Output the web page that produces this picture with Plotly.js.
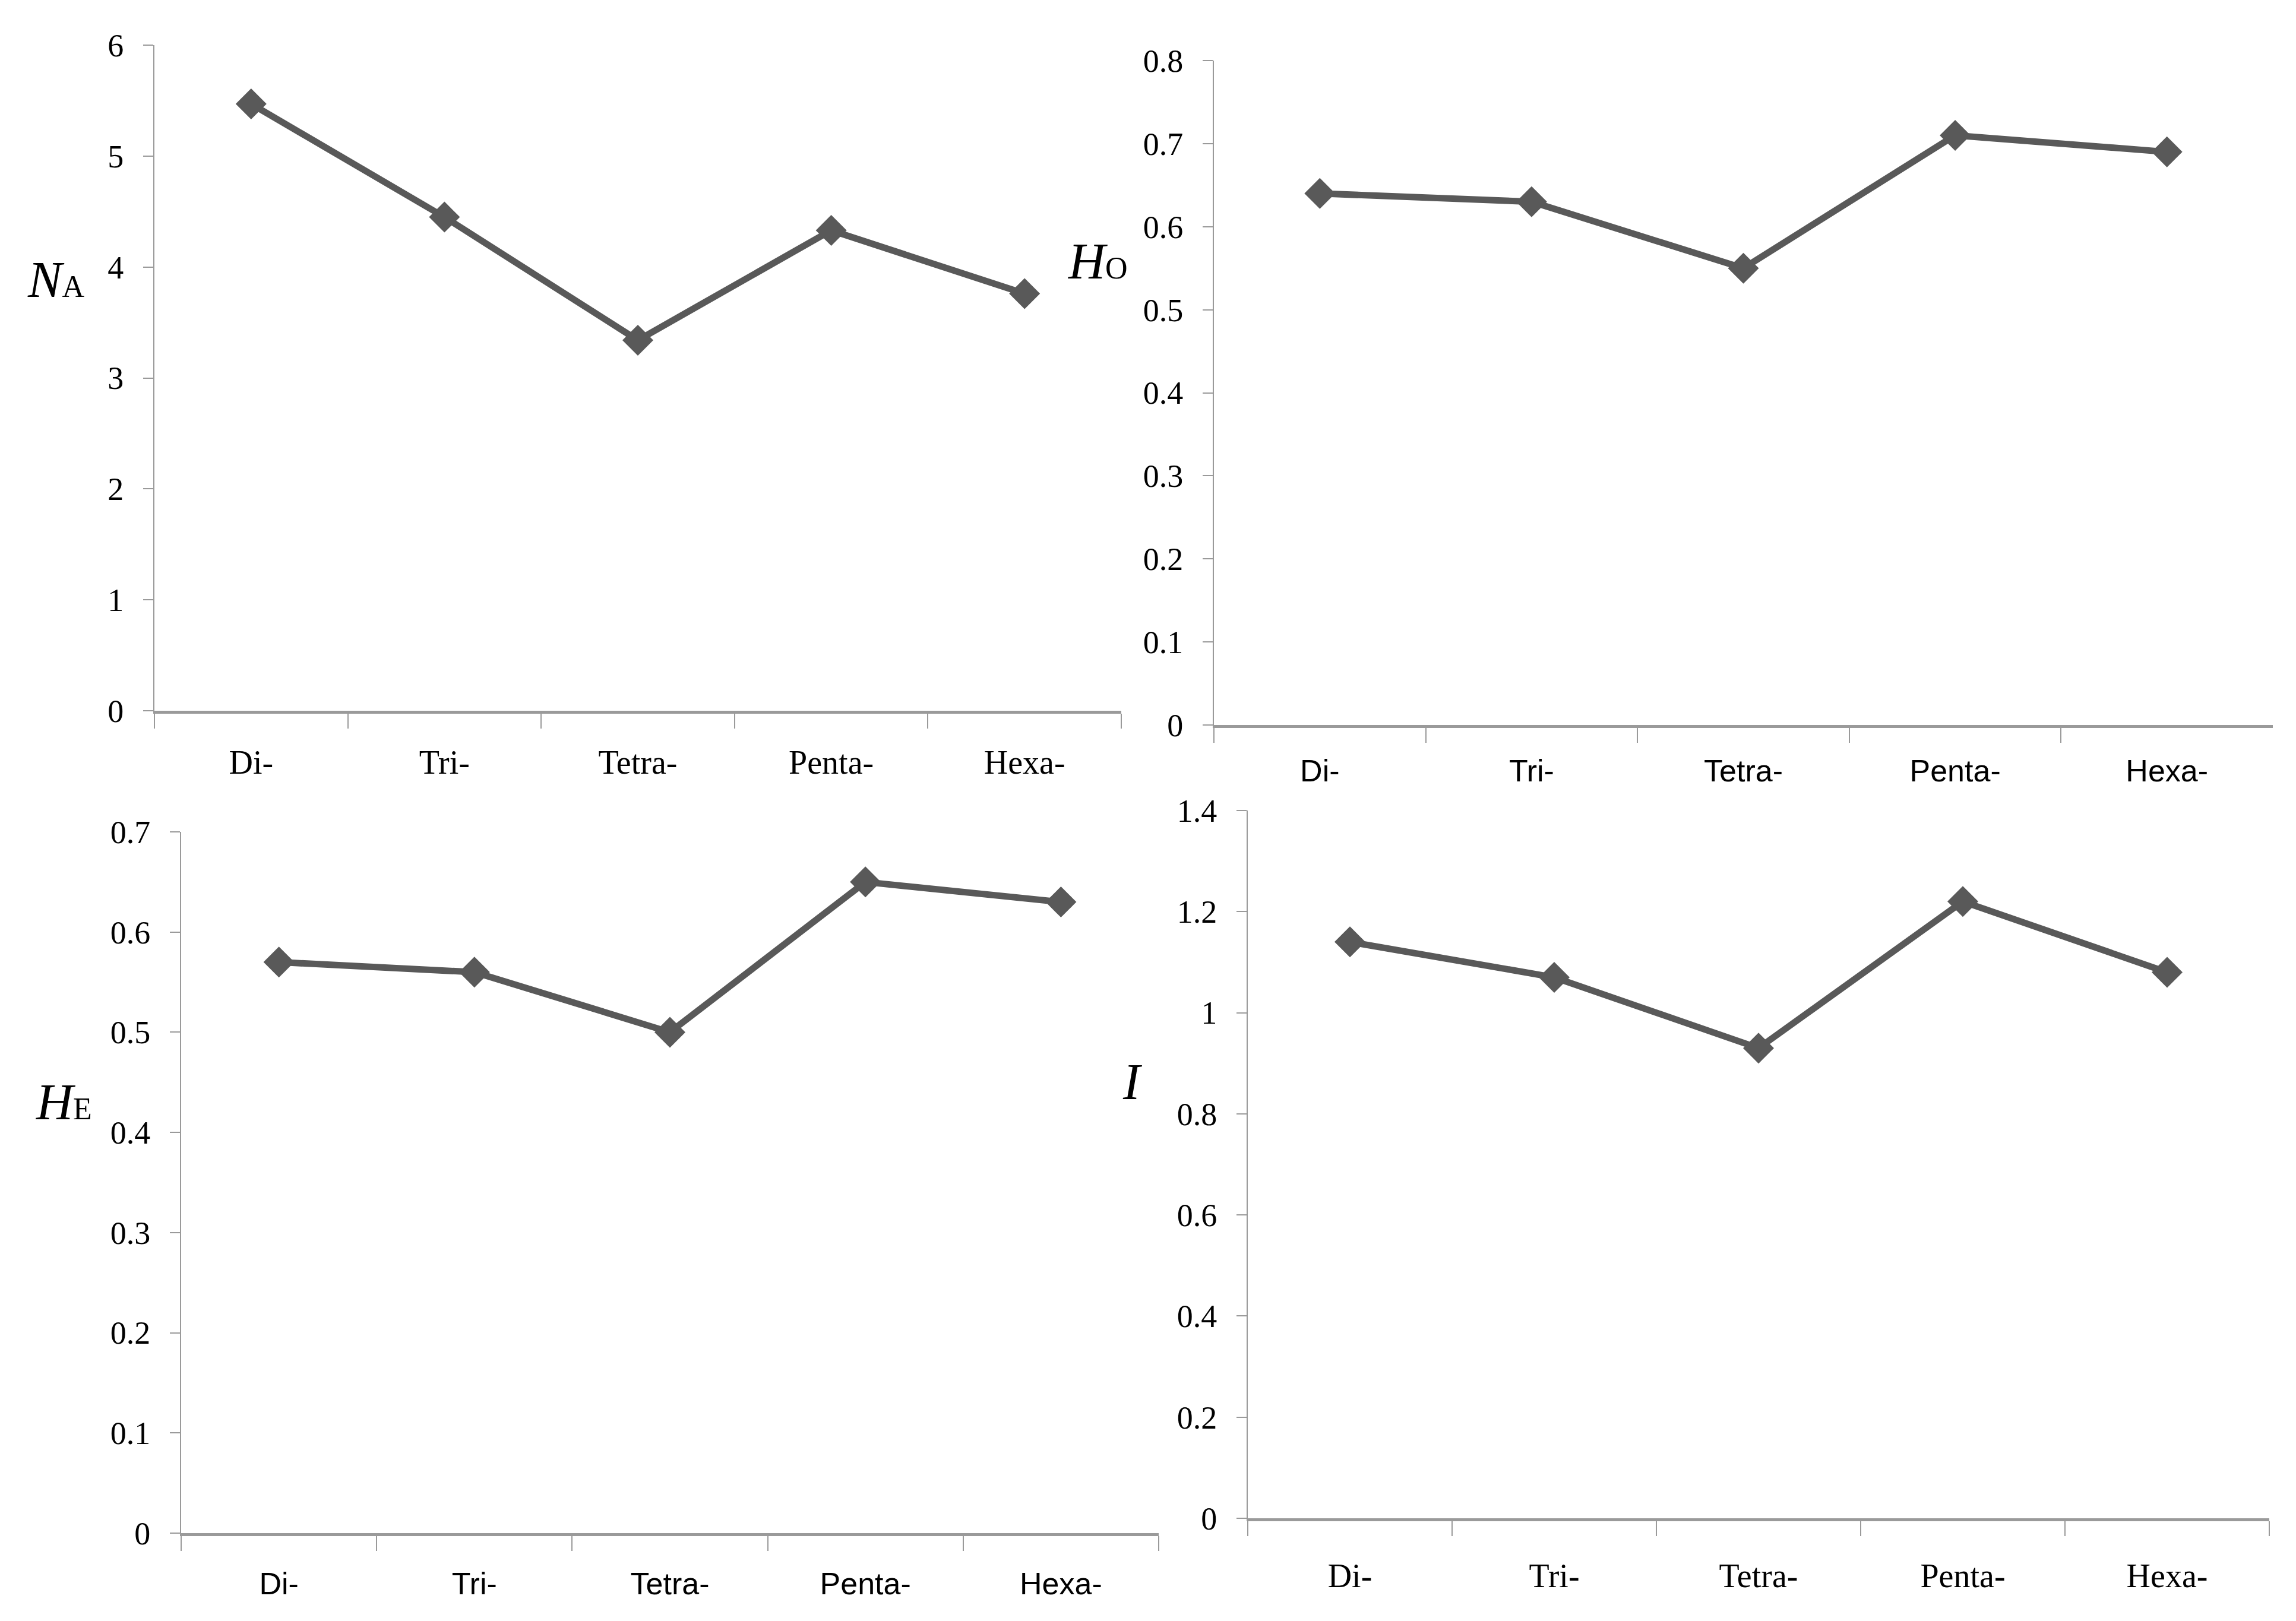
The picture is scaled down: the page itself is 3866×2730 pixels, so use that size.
<!DOCTYPE html>
<html>
<head>
<meta charset="utf-8">
<script src="https://cdn.plot.ly/plotly-3.0.1.min.js"></script>
<style>html,body{margin:0;padding:0;background:#fff;}#chart{width:3866px;height:2730px;}</style>
</head>
<body>
<div id="chart"></div>
<script>
const categories = ["Di-", "Tri-", "Tetra-", "Penta-", "Hexa-"];
const naValues = [5.47, 4.45, 3.34, 4.33, 3.76];
const hoValues = [0.64, 0.63, 0.55, 0.71, 0.69];
const heValues = [0.57, 0.56, 0.50, 0.65, 0.63];
const iValues = [1.14, 1.07, 0.93, 1.22, 1.08];
const naTicks = [0, 1, 2, 3, 4, 5, 6];
const hoTicks = [0, 0.1, 0.2, 0.3, 0.4, 0.5, 0.6, 0.7, 0.8];
const heTicks = [0, 0.1, 0.2, 0.3, 0.4, 0.5, 0.6, 0.7];
const iTicks = [0, 0.2, 0.4, 0.6, 0.8, 1, 1.2, 1.4];

const W = 3866, H = 2730;
const px = v => v / W;
const py = v => 1 - v / H;

const lineColor = '#595959';
const axisColor = '#9a9a9a';
const serif = 'Liberation Serif, Times New Roman, serif';
const sans = 'Liberation Sans, Arial, sans-serif';

function trace(vals, xa, ya) {
  return {
    x: categories, y: vals, xaxis: xa, yaxis: ya,
    type: 'scatter', mode: 'lines+markers',
    line: {color: lineColor, width: 11},
    marker: {symbol: 'diamond', size: 40, color: lineColor},
    hoverinfo: 'skip', showlegend: false
  };
}

function xAxis(dom, anchor, fam, size, standoff) {
  return {
    domain: dom, anchor: anchor, type: 'category',
    range: [-0.5, 4.5], tickson: 'boundaries',
    showline: true, linecolor: axisColor, linewidth: 5,
    ticks: 'outside', ticklen: 25, tickwidth: 2, tickcolor: axisColor,
    showgrid: false, zeroline: false,
    tickfont: {family: fam, size: size, color: '#000'},
    ticklabelstandoff: standoff
  };
}
function yAxis(dom, anchor, range, tv) {
  return {
    domain: dom, anchor: anchor, range: range,
    tickmode: 'array', tickvals: tv, ticktext: tv.map(v => String(v)),
    showline: true, linecolor: axisColor, linewidth: 2,
    ticks: 'outside', ticklen: 17, tickwidth: 2, tickcolor: axisColor,
    showgrid: false, zeroline: false,
    tickfont: {family: serif, size: 54, color: '#000'},
    ticklabelstandoff: 22
  };
}

const data = [
  trace(naValues, 'x', 'y'),
  trace(hoValues, 'x2', 'y2'),
  trace(heValues, 'x3', 'y3'),
  trace(iValues, 'x4', 'y4')
];

function label(main, sub, x, y) {
  return {
    xref: 'paper', yref: 'paper', x: x, y: y, xanchor: 'left', yanchor: 'middle',
    showarrow: false,
    text: '<i>' + main + '</i>' + (sub ? '<span style="font-size:52px">' + sub + '</span>' : ''),
    font: {family: serif, size: 86, color: '#000'}
  };
}

const layout = {
  width: W, height: H,
  margin: {l: 0, r: 0, t: 0, b: 0},
  paper_bgcolor: '#fff', plot_bgcolor: '#fff',
  showlegend: false,
  xaxis: xAxis([px(260), px(1888)], 'y', serif, 56, 34),
  yaxis: yAxis([py(1197), py(76)], 'x', [0, 6], naTicks),
  xaxis2: xAxis([px(2044), px(3827)], 'y2', sans, 52, 28),
  yaxis2: yAxis([py(1221), py(102)], 'x2', [0, 0.8], hoTicks),
  xaxis3: xAxis([px(305), px(1951)], 'y3', sans, 52, 36),
  yaxis3: yAxis([py(2582), py(1401)], 'x3', [0, 0.7], heTicks),
  xaxis4: xAxis([px(2101), px(3821)], 'y4', serif, 56, 44),
  yaxis4: yAxis([py(2557), py(1365)], 'x4', [0, 1.4], iTicks),
  annotations: [
    label('N', 'A', px(44), py(471)),
    label('H', 'O', px(1796), py(440)),
    label('H', 'E', px(58), py(1856)),
    label('I', '', px(1888), py(1822))
  ]
};

Plotly.newPlot('chart', data, layout, {staticPlot: true, displayModeBar: false});
</script>
</body>
</html>
